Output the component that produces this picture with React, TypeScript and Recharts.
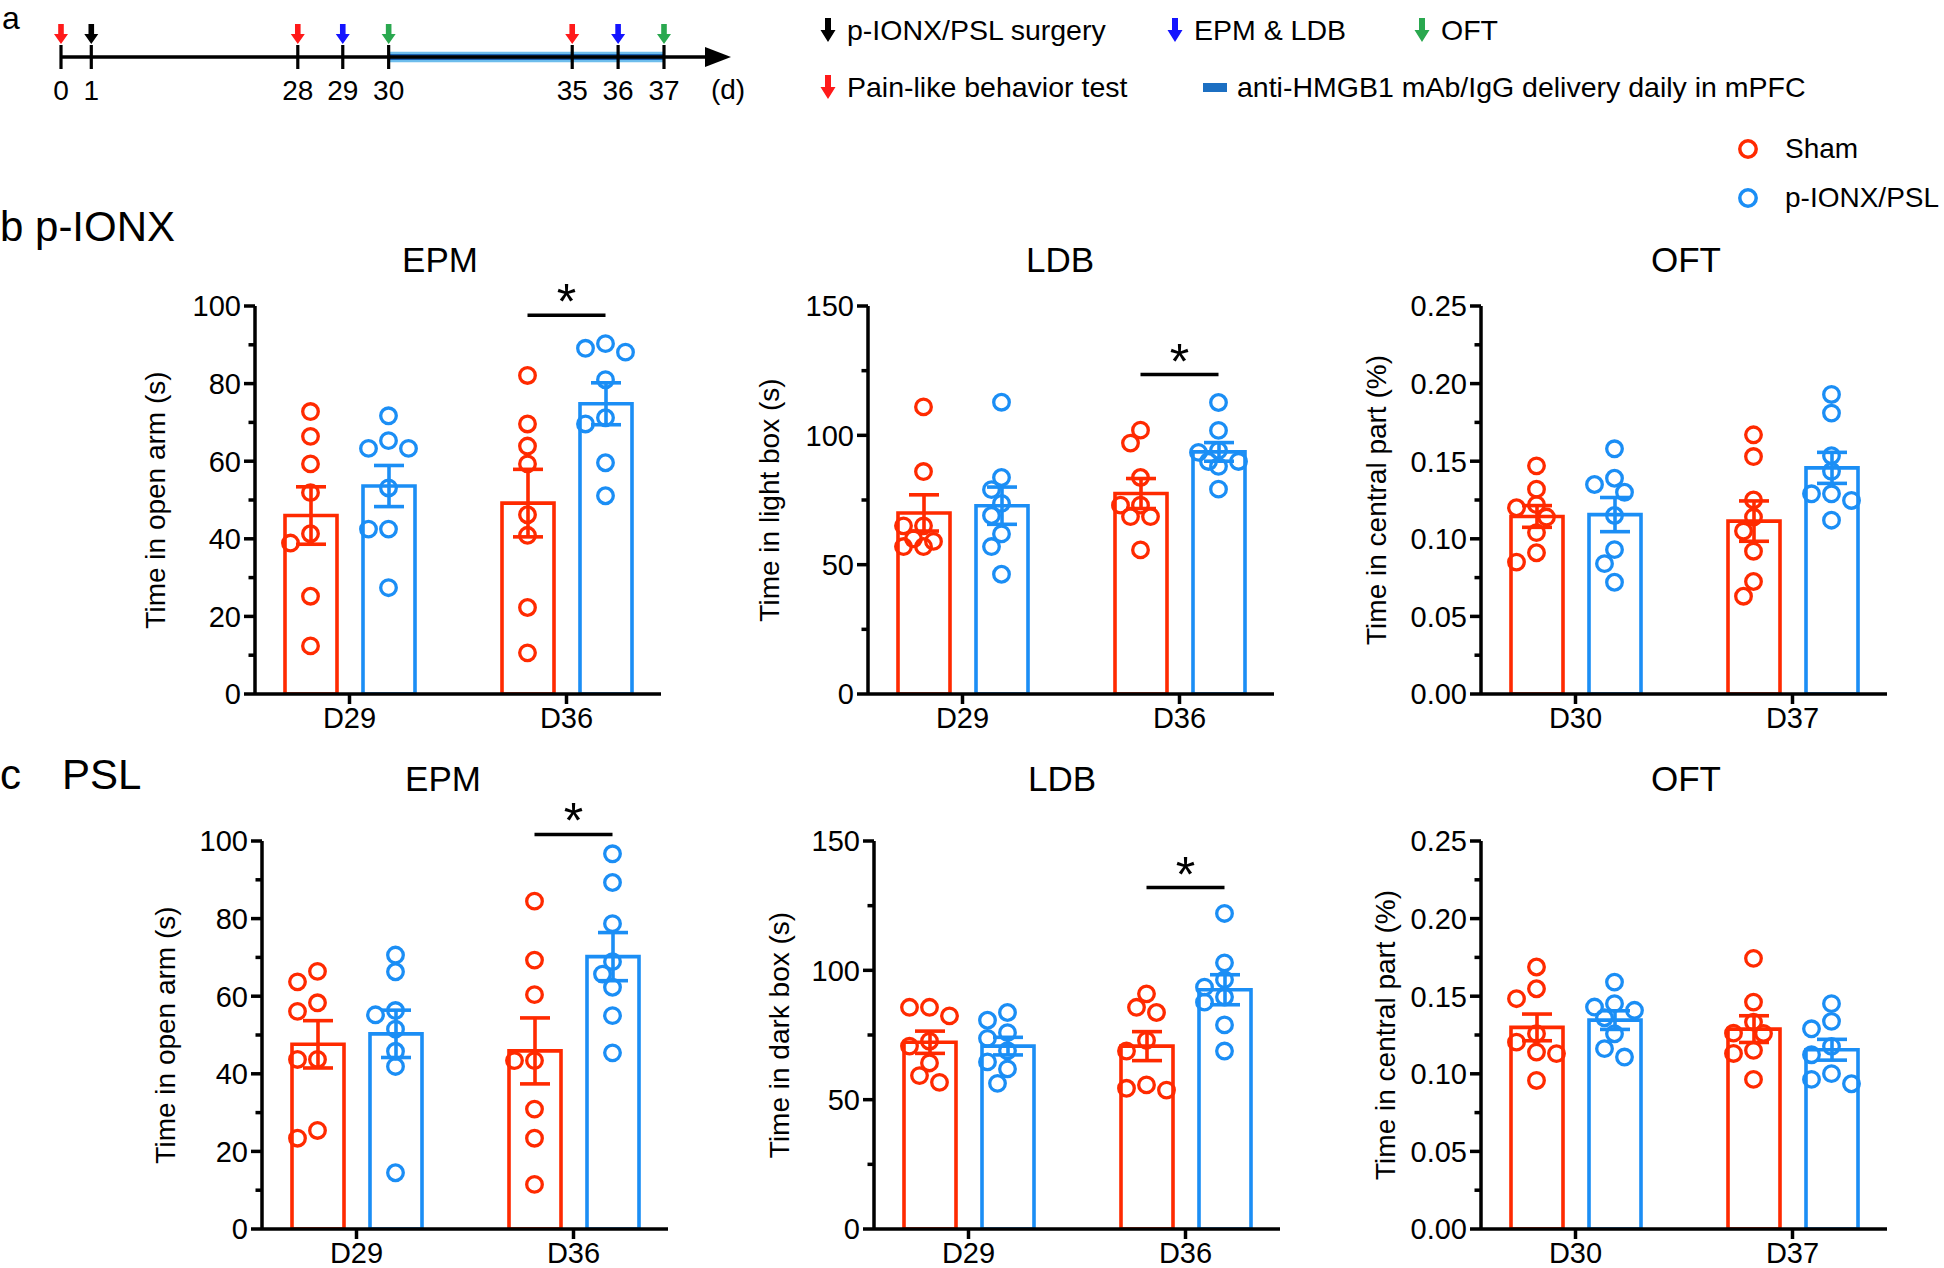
import React from 'react'
import {
  ComposedChart,
  Bar,
  ErrorBar,
  Scatter,
  XAxis,
  YAxis,
  ReferenceLine,
  ReferenceArea,
} from 'recharts'

const RED = '#ff2a00'
const BLUE = '#1b8ef5'
const FONT = '"Liberation Sans", Arial, Helvetica, sans-serif'

// ---- panel a: experiment timeline ----
const TL_DAYS = [0, 1, 28, 29, 30, 35, 36, 37]
// schematic slot of each day on the (broken) time axis
const TL_SLOTS = [0, 0.66, 5.16, 6.14, 7.14, 11.14, 12.14, 13.14]
const TL_EVENTS = ['pain', 'surgery', 'pain', 'epm', 'oft', 'pain', 'epm', 'oft']
const TL_END = 14.6
const DELIVERY_DAYS = [30, 37]

const EVENT_COLORS: Record<string, string> = {
  pain: '#ff1a1a',
  surgery: '#000000',
  epm: '#1414ff',
  oft: '#2aa84f',
}

// ---- categories ----
const DAYS_EPM_LDB = ['D29', 'D36']
const DAYS_OFT = ['D30', 'D37']

const EPM_TICKS = [0, 20, 40, 60, 80, 100]
const LDB_TICKS = [0, 50, 100, 150]
const OFT_TICKS = [0, 0.05, 0.1, 0.15, 0.2, 0.25]

// ---- b  p-IONX ----
const B_EPM_SHAM = [
  [72.8, 66.4, 59.3, 51.9, 41.3, 38.9, 25.2, 12.4],
  [82.1, 69.6, 63.9, 59.3, 46.2, 40.9, 22.3, 10.6],
]
const B_EPM_MODEL = [
  [71.7, 65.3, 63.3, 63.3, 53.1, 42.5, 42.5, 27.4],
  [90.3, 89.1, 88.1, 81.0, 71.2, 69.6, 59.6, 51.1],
]
const B_EPM_SHAM_MEAN = [46.0, 49.2]
const B_EPM_SHAM_SEM = [7.4, 8.7]
const B_EPM_MODEL_MEAN = [53.6, 74.8]
const B_EPM_MODEL_SEM = [5.3, 5.4]

const B_LDB_SHAM = [
  [111.0, 86.0, 65.0, 65.0, 60.0, 59.0, 57.0, 57.0],
  [102.0, 97.0, 83.7, 73.0, 73.0, 68.6, 68.6, 55.7],
]
const B_LDB_MODEL = [
  [112.8, 83.7, 79.0, 73.7, 69.0, 61.9, 57.0, 46.3],
  [112.7, 101.9, 94.2, 93.4, 89.9, 89.9, 88.0, 79.2],
]
const B_LDB_SHAM_MEAN = [70.0, 77.5]
const B_LDB_SHAM_SEM = [7.0, 5.8]
const B_LDB_MODEL_MEAN = [72.8, 93.6]
const B_LDB_MODEL_SEM = [7.2, 3.6]

const B_OFT_SHAM = [
  [0.147, 0.132, 0.122, 0.12, 0.114, 0.104, 0.091, 0.085],
  [0.167, 0.153, 0.125, 0.114, 0.105, 0.092, 0.0725, 0.063],
]
const B_OFT_MODEL = [
  [0.158, 0.139, 0.135, 0.13, 0.115, 0.093, 0.084, 0.072],
  [0.193, 0.181, 0.1535, 0.1435, 0.129, 0.129, 0.1247, 0.112],
]
const B_OFT_SHAM_MEAN = [0.1144, 0.1114]
const B_OFT_SHAM_SEM = [0.007, 0.013]
const B_OFT_MODEL_MEAN = [0.1156, 0.1457]
const B_OFT_MODEL_SEM = [0.011, 0.01]

// ---- c  PSL ----
const C_EPM_SHAM = [
  [66.4, 63.7, 58.3, 56.1, 43.7, 43.7, 25.4, 23.4],
  [84.5, 69.3, 60.4, 43.4, 43.4, 30.9, 23.4, 11.5],
]
const C_EPM_MODEL = [
  [70.6, 66.3, 56.3, 55.2, 51.5, 45.8, 41.9, 14.5],
  [96.7, 89.3, 78.7, 68.9, 65.7, 62.3, 55.0, 45.4],
]
const C_EPM_SHAM_MEAN = [47.6, 45.9]
const C_EPM_SHAM_SEM = [6.1, 8.5]
const C_EPM_MODEL_MEAN = [50.3, 70.2]
const C_EPM_MODEL_SEM = [6.1, 6.2]

const C_LDB_SHAM = [
  [85.7, 85.7, 82.4, 72.6, 70.7, 64.2, 59.3, 56.7],
  [90.9, 85.7, 83.7, 72.9, 68.8, 55.7, 54.4, 53.7],
]
const C_LDB_MODEL = [
  [83.7, 80.7, 75.9, 73.7, 68.9, 64.6, 61.9, 56.3],
  [122.0, 102.9, 96.4, 93.5, 89.7, 87.7, 78.9, 68.8],
]
const C_LDB_SHAM_MEAN = [72.2, 70.7]
const C_LDB_SHAM_SEM = [4.3, 5.6]
const C_LDB_MODEL_MEAN = [70.7, 92.5]
const C_LDB_MODEL_SEM = [3.4, 5.8]

const C_OFT_SHAM = [
  [0.1688, 0.1548, 0.1484, 0.1258, 0.1204, 0.114, 0.113, 0.0957],
  [0.1744, 0.1462, 0.1333, 0.1262, 0.126, 0.1151, 0.1131, 0.0964],
]
const C_OFT_MODEL = [
  [0.1591, 0.1452, 0.143, 0.1409, 0.1361, 0.1258, 0.1162, 0.1108],
  [0.1452, 0.1338, 0.129, 0.1177, 0.1123, 0.1001, 0.0964, 0.0936],
]
const C_OFT_SHAM_MEAN = [0.1299, 0.1288]
const C_OFT_SHAM_SEM = [0.0086, 0.0086]
const C_OFT_MODEL_MEAN = [0.1346, 0.1155]
const C_OFT_MODEL_SEM = [0.006, 0.0067]

// significance bars (y value of the bar over D36), null = none
const SIG_B = [97.6, 123.5, null]
const SIG_C = [101.7, 132, null]

// ---- layout ----
const PLOT_W = 406
const PLOT_H = 388
const ML = 100
const YW = 80
const MT = 70
const MB = 20
const XH = 50
const MR = 20
const CW = ML + YW + PLOT_W + MR
const CH = MT + PLOT_H + XH + MB
const PAD = -14
const BAND = (PLOT_W - 2 * PAD) / 2
const BAR = 52
const GAP = 26
const BAR_OFF = (BAR + GAP) / 2

// horizontal spread of overlapping dots (GraphPad style), in px
function swarm(vals: number[], pxPerUnit: number): number[] {
  const DIAM = 15
  const STEP = 20
  const cands = [0, -0.5, 0.5, -1, 1]
  const order = vals.map((_, i) => i).sort((a, b) => vals[b] - vals[a])
  const placed: { x: number; y: number }[] = []
  const out = vals.map(() => 0)
  for (const i of order) {
    const y = vals[i] * pxPerUnit
    let best = 0
    let bestD = -1
    for (const c of cands) {
      const x = c * STEP
      const d = placed.reduce((m, q) => Math.min(m, Math.hypot(q.x - x, q.y - y)), Infinity)
      if (d >= DIAM) {
        best = x
        bestD = d
        break
      }
      if (d > bestD + 0.5) {
        best = x
        bestD = d
      }
    }
    out[i] = best
    placed.push({ x: best, y })
  }
  return out
}

const ring = (color: string) => (p: any) =>
  <circle cx={p.cx} cy={p.cy} r={7.8} fill="none" stroke={color} strokeWidth={3.3} />

interface PanelProps {
  title: string
  ylabel: string
  cats: string[]
  sham: number[][]
  model: number[][]
  shamMean: number[]
  shamSem: number[]
  modelMean: number[]
  modelSem: number[]
  ticks: number[]
  fmt: (v: number) => string
  sig: number | null
  axisX: number
  top: number
  labelDx: number
}

function Panel(p: PanelProps) {
  const yMax = p.ticks[p.ticks.length - 1]
  const pxPerUnit = PLOT_H / yMax
  const data = p.cats.map((c, i) => ({
    day: c,
    sham: p.shamMean[i],
    model: p.modelMean[i],
    shamErr: p.shamSem[i],
    modelErr: p.modelSem[i],
  }))
  const dots = (groups: number[][], side: number) =>
    groups.flatMap((vals, i) => {
      const jit = swarm(vals, pxPerUnit)
      return vals.map((v, k) => ({ x: i + 0.5 + (side * BAR_OFF + jit[k]) / BAND, y: v }))
    })
  const minors = p.ticks.slice(1).map((t, i) => (t + p.ticks[i]) / 2)
  const allTicks = [...p.ticks, ...minors].sort((a, b) => a - b)
  const axX = ML + YW
  const isMajor = (v: number) => p.ticks.some((t) => Math.abs(t - v) < 1e-9)

  const YTick = (tp: any) => {
    const v = tp.payload.value
    const y = tp.y
    const major = isMajor(v)
    return (
      <g>
        <line x1={axX - (major ? 11 : 6.5)} x2={axX} y1={y} y2={y} stroke="#000" strokeWidth={3.5} />
        {major && (
          <text x={axX - 14} y={y} dy="0.36em" textAnchor="end" fontSize={29} fill="#000">
            {p.fmt(v)}
          </text>
        )}
      </g>
    )
  }

  const sigX = [1.5 - BAR_OFF / BAND, 1.5 + BAR_OFF / BAND]

  return (
    <div style={{ position: 'absolute', left: p.axisX - axX, top: p.top - MT }}>
      <ComposedChart
        width={CW}
        height={CH}
        data={data}
        margin={{ top: MT, right: MR, bottom: MB, left: ML }}
        barGap={GAP}
        barSize={BAR}
      >
        <XAxis
          xAxisId="cat"
          dataKey="day"
          type="category"
          padding={{ left: PAD, right: PAD }}
          height={XH}
          axisLine={{ stroke: '#000', strokeWidth: 3.5 }}
          tickLine={{ stroke: '#000', strokeWidth: 3.5 }}
          tickSize={10}
          tickMargin={3}
          tick={{ fill: '#000', fontSize: 29 }}
        />
        <XAxis
          xAxisId="num"
          dataKey="x"
          type="number"
          domain={[0, 2]}
          padding={{ left: PAD, right: PAD }}
          allowDataOverflow
          hide
        />
        <YAxis
          type="number"
          width={YW}
          domain={[0, yMax]}
          ticks={allTicks}
          interval={0}
          tickSize={0}
          tickMargin={0}
          tickLine={false}
          axisLine={{ stroke: '#000', strokeWidth: 3.5 }}
          tick={YTick}
          allowDataOverflow
          label={{
            content: () => (
              <text
                transform={`translate(${axX - p.labelDx}, ${MT + PLOT_H / 2}) rotate(-90)`}
                textAnchor="middle"
                dominantBaseline="central"
                fontSize={28}
                fill="#000"
              >
                {p.ylabel}
              </text>
            ),
          }}
        />
        <Bar xAxisId="cat" dataKey="sham" fill="none" stroke={RED} strokeWidth={3.6} isAnimationActive={false}>
          <ErrorBar dataKey="shamErr" width={15} stroke={RED} strokeWidth={3.6} direction="y" />
        </Bar>
        <Bar xAxisId="cat" dataKey="model" fill="none" stroke={BLUE} strokeWidth={3.6} isAnimationActive={false}>
          <ErrorBar dataKey="modelErr" width={15} stroke={BLUE} strokeWidth={3.6} direction="y" />
        </Bar>
        <Scatter xAxisId="num" data={dots(p.sham, -1)} dataKey="y" shape={ring(RED)} isAnimationActive={false} />
        <Scatter xAxisId="num" data={dots(p.model, 1)} dataKey="y" shape={ring(BLUE)} isAnimationActive={false} />
        {p.sig != null && (
          <ReferenceLine
            xAxisId="num"
            segment={[
              { x: sigX[0], y: p.sig },
              { x: sigX[1], y: p.sig },
            ]}
            stroke="#000"
            strokeWidth={3.5}
            ifOverflow="visible"
            label={{
              content: (lp: any) => {
                const vb = lp.viewBox || {}
                return (
                  <text x={vb.x + (vb.width || 0) / 2} y={vb.y + 4} textAnchor="middle" fontSize={50} fill="#000">
                    *
                  </text>
                )
              },
            }}
          />
        )}
      </ComposedChart>
    </div>
  )
}

const slotOf = (d: number) => TL_SLOTS[TL_DAYS.indexOf(d)]

function arrowPath(cx: number, top: number, w: number, h: number) {
  const sw = w * 0.4
  const headTop = top + h * 0.5
  return `M${cx - sw / 2},${top} L${cx + sw / 2},${top} L${cx + sw / 2},${headTop} L${cx + w / 2},${headTop} L${cx},${top + h} L${cx - w / 2},${headTop} L${cx - sw / 2},${headTop} Z`
}

function EventMark(props: any) {
  const { cx, cy, payload } = props
  return (
    <g>
      <line x1={cx} x2={cx} y1={cy - 12} y2={cy + 12} stroke="#000" strokeWidth={3.2} />
      <path d={arrowPath(cx, cy - 33, 14, 20)} fill={EVENT_COLORS[payload.ev]} />
      <text x={cx} y={cy + 33} textAnchor="middle" dominantBaseline="central" fontSize={28} fill="#000">
        {payload.day}
      </text>
    </g>
  )
}

function AxisArrow(props: any) {
  const { x1, y1, x2 } = props
  return (
    <g>
      <line x1={x1} x2={x2 - 20} y1={y1} y2={y1} stroke="#000" strokeWidth={3.4} />
      <path d={`M${x2 - 26},${y1 - 10} L${x2},${y1} L${x2 - 26},${y1 + 10} Z`} fill="#000" />
    </g>
  )
}

function Timeline() {
  const events = TL_DAYS.map((d, i) => ({ x: TL_SLOTS[i], y: 0.5, day: d, ev: TL_EVENTS[i] }))
  const d0 = slotOf(DELIVERY_DAYS[0])
  const d1 = slotOf(DELIVERY_DAYS[1])
  return (
    <div style={{ position: 'absolute', left: 0, top: 0 }}>
      <ComposedChart width={760} height={114} data={events} margin={{ top: 0, right: 29, bottom: 0, left: 61 }}>
        <XAxis type="number" dataKey="x" domain={[0, TL_END]} hide />
        <YAxis type="number" domain={[0, 1]} hide />
        <ReferenceArea x1={d0} x2={d1} y1={0.455} y2={0.545} fill="#6ebdec" fillOpacity={1} stroke="none" />
        <ReferenceLine
          segment={[
            { x: d0, y: 0.5 },
            { x: d1, y: 0.5 },
          ]}
          stroke="#1c64b4"
          strokeWidth={6}
        />
        <ReferenceLine
          segment={[
            { x: 0, y: 0.5 },
            { x: TL_END, y: 0.5 },
          ]}
          shape={AxisArrow}
        />
        <Scatter dataKey="y" data={events} shape={EventMark} isAnimationActive={false} />
      </ComposedChart>
    </div>
  )
}

function Txt({ x, y, size, children, center }: { x: number; y: number; size: number; children: React.ReactNode; center?: boolean }) {
  return (
    <div
      style={{
        position: 'absolute',
        left: x,
        top: y,
        fontSize: size,
        lineHeight: 1.15,
        whiteSpace: 'nowrap',
        transform: center ? 'translate(-50%, -50%)' : 'translate(0, -50%)',
      }}
    >
      {children}
    </div>
  )
}

function LegendArrow({ x, y, color }: { x: number; y: number; color: string }) {
  return (
    <svg style={{ position: 'absolute', left: x - 9, top: y - 13 }} width={18} height={26}>
      <path d={arrowPath(9, 1, 15, 24)} fill={color} />
    </svg>
  )
}

function LegendRing({ x, y, color }: { x: number; y: number; color: string }) {
  return (
    <svg style={{ position: 'absolute', left: x - 12, top: y - 12 }} width={24} height={24}>
      <circle cx={12} cy={12} r={8.2} fill="none" stroke={color} strokeWidth={3.5} />
    </svg>
  )
}

const fmtInt = (v: number) => String(v)
const fmtPct = (v: number) => v.toFixed(2)

export default function App() {
  const rowTop = [306, 840.6]
  const colX = [
    [255, 868, 1481],
    [262, 874, 1481],
  ]
  const panels: PanelProps[] = [
    { title: 'EPM', ylabel: 'Time in open arm (s)', cats: DAYS_EPM_LDB, sham: B_EPM_SHAM, model: B_EPM_MODEL, shamMean: B_EPM_SHAM_MEAN, shamSem: B_EPM_SHAM_SEM, modelMean: B_EPM_MODEL_MEAN, modelSem: B_EPM_MODEL_SEM, ticks: EPM_TICKS, fmt: fmtInt, sig: SIG_B[0], axisX: colX[0][0], top: rowTop[0], labelDx: 100 },
    { title: 'LDB', ylabel: 'Time in light box (s)', cats: DAYS_EPM_LDB, sham: B_LDB_SHAM, model: B_LDB_MODEL, shamMean: B_LDB_SHAM_MEAN, shamSem: B_LDB_SHAM_SEM, modelMean: B_LDB_MODEL_MEAN, modelSem: B_LDB_MODEL_SEM, ticks: LDB_TICKS, fmt: fmtInt, sig: SIG_B[1], axisX: colX[0][1], top: rowTop[0], labelDx: 99 },
    { title: 'OFT', ylabel: 'Time in central part (%)', cats: DAYS_OFT, sham: B_OFT_SHAM, model: B_OFT_MODEL, shamMean: B_OFT_SHAM_MEAN, shamSem: B_OFT_SHAM_SEM, modelMean: B_OFT_MODEL_MEAN, modelSem: B_OFT_MODEL_SEM, ticks: OFT_TICKS, fmt: fmtPct, sig: SIG_B[2], axisX: colX[0][2], top: rowTop[0], labelDx: 105 },
    { title: 'EPM', ylabel: 'Time in open arm (s)', cats: DAYS_EPM_LDB, sham: C_EPM_SHAM, model: C_EPM_MODEL, shamMean: C_EPM_SHAM_MEAN, shamSem: C_EPM_SHAM_SEM, modelMean: C_EPM_MODEL_MEAN, modelSem: C_EPM_MODEL_SEM, ticks: EPM_TICKS, fmt: fmtInt, sig: SIG_C[0], axisX: colX[1][0], top: rowTop[1], labelDx: 97 },
    { title: 'LDB', ylabel: 'Time in dark box (s)', cats: DAYS_EPM_LDB, sham: C_LDB_SHAM, model: C_LDB_MODEL, shamMean: C_LDB_SHAM_MEAN, shamSem: C_LDB_SHAM_SEM, modelMean: C_LDB_MODEL_MEAN, modelSem: C_LDB_MODEL_SEM, ticks: LDB_TICKS, fmt: fmtInt, sig: SIG_C[1], axisX: colX[1][1], top: rowTop[1], labelDx: 95 },
    { title: 'OFT', ylabel: 'Time in central part (%)', cats: DAYS_OFT, sham: C_OFT_SHAM, model: C_OFT_MODEL, shamMean: C_OFT_SHAM_MEAN, shamSem: C_OFT_SHAM_SEM, modelMean: C_OFT_MODEL_MEAN, modelSem: C_OFT_MODEL_SEM, ticks: OFT_TICKS, fmt: fmtPct, sig: SIG_C[2], axisX: colX[1][2], top: rowTop[1], labelDx: 96 },
  ]
  const titleX = [440, 1060, 1686, 443, 1062, 1686]
  const titleY = [260, 260, 260, 779, 779, 779]

  return (
    <div
      style={{
        position: 'absolute',
        left: 0,
        top: 0,
        width: 1944,
        height: 1268,
        background: '#fff',
        color: '#000',
        fontFamily: FONT,
        overflow: 'hidden',
      }}
    >
      {/* a: timeline */}
      <Txt x={2} y={18} size={32}>a</Txt>
      <Timeline />
      <Txt x={728} y={90} size={28} center>(d)</Txt>

      <LegendArrow x={828} y={30} color={EVENT_COLORS.surgery} />
      <Txt x={847} y={30} size={28.5}>p-IONX/PSL surgery</Txt>
      <LegendArrow x={1175} y={30} color={EVENT_COLORS.epm} />
      <Txt x={1194} y={30} size={28.5}>EPM &amp; LDB</Txt>
      <LegendArrow x={1422} y={30} color={EVENT_COLORS.oft} />
      <Txt x={1441} y={30} size={28.5}>OFT</Txt>
      <LegendArrow x={828} y={87} color={EVENT_COLORS.pain} />
      <Txt x={847} y={87} size={28.5}>Pain-like behavior test</Txt>
      <div style={{ position: 'absolute', left: 1203, top: 83, width: 24, height: 9, background: '#1c6fc2' }} />
      <Txt x={1237} y={87} size={28.5}>anti-HMGB1 mAb/IgG delivery daily in mPFC</Txt>

      {/* group legend */}
      <LegendRing x={1748} y={149} color={RED} />
      <Txt x={1785} y={149} size={28}>Sham</Txt>
      <LegendRing x={1748} y={198} color={BLUE} />
      <Txt x={1785} y={198} size={28}>p-IONX/PSL</Txt>

      {/* row labels */}
      <Txt x={0} y={227} size={42}>b p-IONX</Txt>
      <Txt x={0} y={775} size={42}>c</Txt>
      <Txt x={62} y={775} size={42}>PSL</Txt>

      {panels.map((p, i) => (
        <Panel key={i} {...p} />
      ))}
      {panels.map((p, i) => (
        <Txt key={'t' + i} x={titleX[i]} y={titleY[i]} size={35} center>
          {p.title}
        </Txt>
      ))}
    </div>
  )
}
